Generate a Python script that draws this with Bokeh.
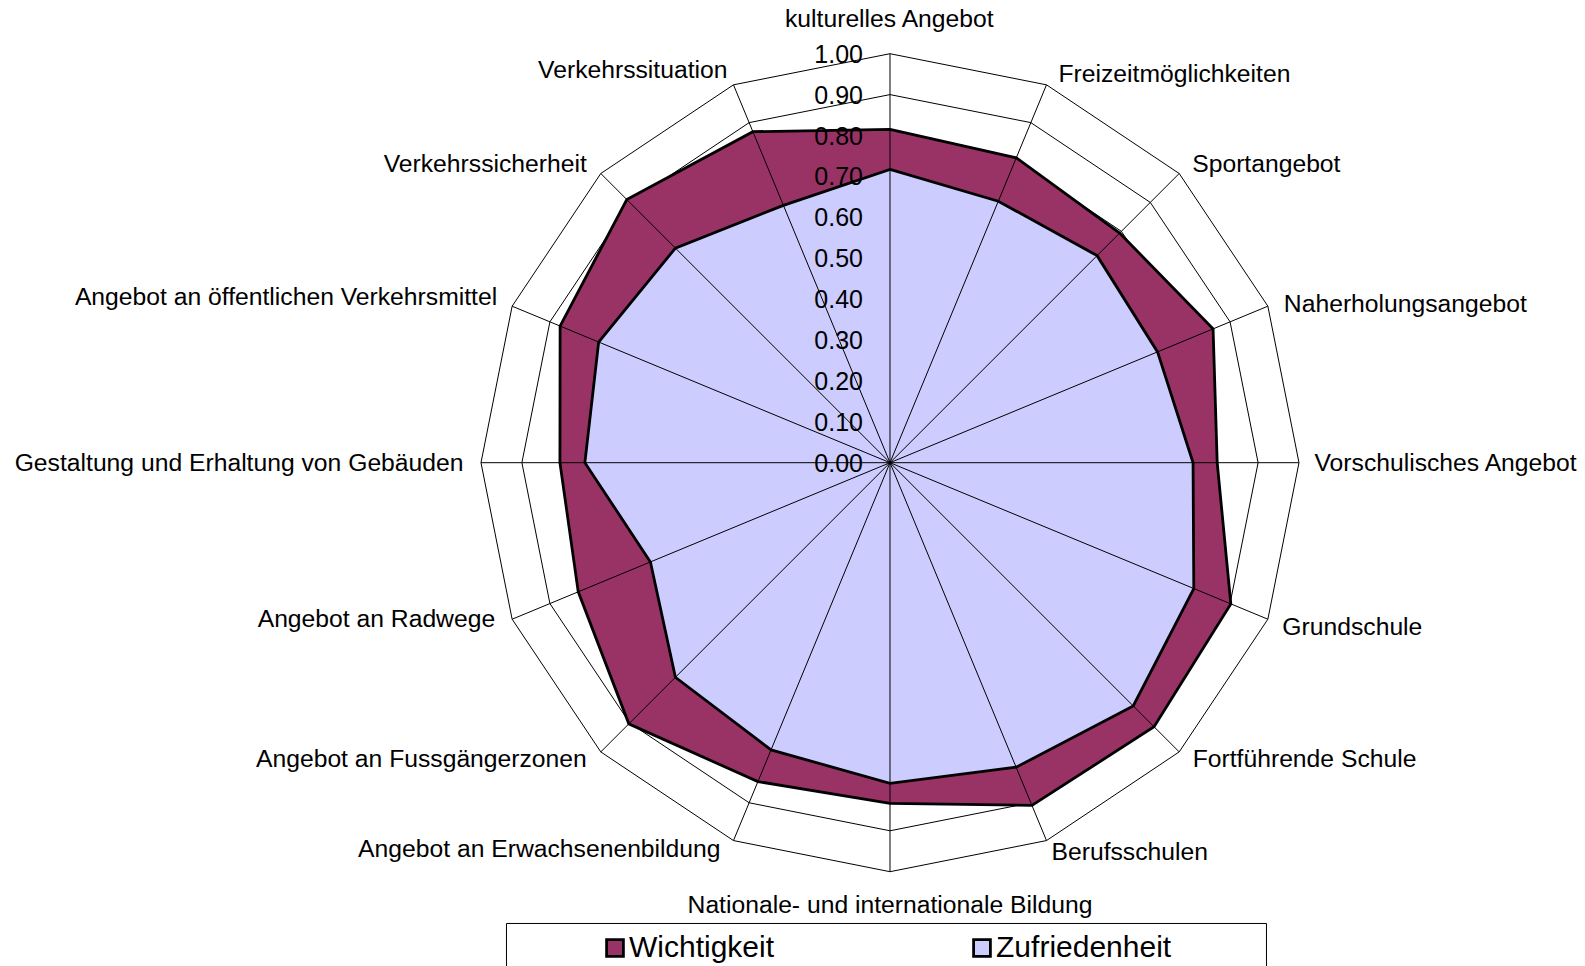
import numpy as np
from bokeh.plotting import figure
from bokeh.models import Range1d, Legend, LegendItem, BoxAnnotation, ColumnDataSource
from bokeh.core.properties import value
from bokeh.embed import file_html
from bokeh.resources import INLINE

# ---------------- data ----------------
categories = [
    "kulturelles Angebot",
    "Freizeitmöglichkeiten",
    "Sportangebot",
    "Naherholungsangebot",
    "Vorschulisches Angebot",
    "Grundschule",
    "Fortführende Schule",
    "Berufsschulen",
    "Nationale- und internationale Bildung",
    "Angebot an Erwachsenenbildung",
    "Angebot an Fussgängerzonen",
    "Angebot an Radwege",
    "Gestaltung und Erhaltung von Gebäuden",
    "Angebot an öffentlichen Verkehrsmittel",
    "Verkehrssicherheit",
    "Verkehrssituation",
]
wichtigkeit = [0.815, 0.807, 0.794, 0.855, 0.800, 0.902, 0.913, 0.907,
               0.833, 0.844, 0.903, 0.825, 0.807, 0.873, 0.910, 0.876]
zufriedenheit = [0.717, 0.692, 0.716, 0.708, 0.741, 0.804, 0.841, 0.806,
                 0.784, 0.760, 0.742, 0.634, 0.746, 0.771, 0.742, 0.681]
tick_values = [0.0, 0.1, 0.2, 0.3, 0.4, 0.5, 0.6, 0.7, 0.8, 0.9, 1.0]
tick_labels = ["0.00", "0.10", "0.20", "0.30", "0.40", "0.50",
               "0.60", "0.70", "0.80", "0.90", "1.00"]
series_names = ["Wichtigkeit", "Zufriedenheit"]

# ---------------- layout / styling ----------------
FONT = value("Liberation Sans")
C_W = "#993366"
C_Z = "#CCCCFF"
# pixel nudges of the category labels from the outer ring vertex (x right, y down)
label_dx = [0, 12, 13, 16, 15.5, 14.5, 13.5, 5, 0, -13, -14, -17, -17.5, -15, -14, -6]
label_dy = [-35, -11.5, -10, -3, -0.5, 7.5, 7, 10.5, 32.5, 8, 7, -1, -0.5, -10, -10, -15]

n = len(categories)
theta = 2 * np.pi * np.arange(n) / n
s, c = np.sin(theta), np.cos(theta)
rmax = tick_values[-1]

p = figure(width=1585, height=966,
           x_range=Range1d(-2.1748, 1.7005), y_range=Range1d(-1.2318, 1.1301),
           output_backend="svg", toolbar_location=None,
           x_axis_type=None, y_axis_type=None, min_border=0,
           outline_line_color=None)
p.grid.visible = False

# grid rings (16-gons)
ring_xs = [list(np.append(t * s, t * s[0])) for t in tick_values[1:]]
ring_ys = [list(np.append(t * c, t * c[0])) for t in tick_values[1:]]
p.multi_line(ring_xs, ring_ys, line_color="black", line_width=1)

# filled series
w = np.array(wichtigkeit)
z = np.array(zufriedenheit)
r_w = p.patch(list(w * s), list(w * c), fill_color=C_W, line_color="black",
              line_width=2.8, line_join="miter")
r_z = p.patch(list(z * s), list(z * c), fill_color=C_Z, line_color="black",
              line_width=2.8, line_join="miter")

# spokes on top
p.segment(x0=np.zeros(n), y0=np.zeros(n), x1=rmax * s, y1=rmax * c,
          line_color="black", line_width=1)

# radial tick labels
p.text(x=np.zeros(len(tick_values)), y=tick_values, text=tick_labels,
       x_offset=-27, text_align="right", text_baseline="middle",
       text_font=FONT, text_font_size="25px", text_color="black")

# category labels
sign = np.where(np.abs(s) < 1e-6, 0, np.sign(s))
for align, mask in (("left", sign > 0), ("right", sign < 0), ("center", sign == 0)):
    idx = np.where(mask)[0]
    src = ColumnDataSource(dict(x=rmax * s[idx], y=rmax * c[idx],
                                text=[categories[i] for i in idx],
                                xo=[label_dx[i] for i in idx],
                                yo=[label_dy[i] for i in idx]))
    p.text(x="x", y="y", text="text", x_offset="xo", y_offset="yo",
           source=src, text_align=align, text_baseline="middle",
           text_font=FONT, text_font_size="24.7px", text_color="black")

# legend frame
p.add_layout(BoxAnnotation(left=-0.9377, right=0.9205, top=-1.1266, bottom=-1.40,
                           fill_alpha=0, line_color="black", line_alpha=1,
                           line_width=1))

legend = Legend(items=[LegendItem(label=series_names[0], renderers=[r_w]),
                       LegendItem(label=series_names[1], renderers=[r_z])],
                orientation="horizontal", location=(604, 2),
                spacing=197, glyph_width=21, glyph_height=21, label_standoff=4,
                padding=0, margin=0, border_line_alpha=0,
                background_fill_alpha=0, label_text_color="black",
                label_text_font="Liberation Sans", label_text_font_size="30px")
p.add_layout(legend)

open("out.html", "w").write(file_html(p, INLINE))
